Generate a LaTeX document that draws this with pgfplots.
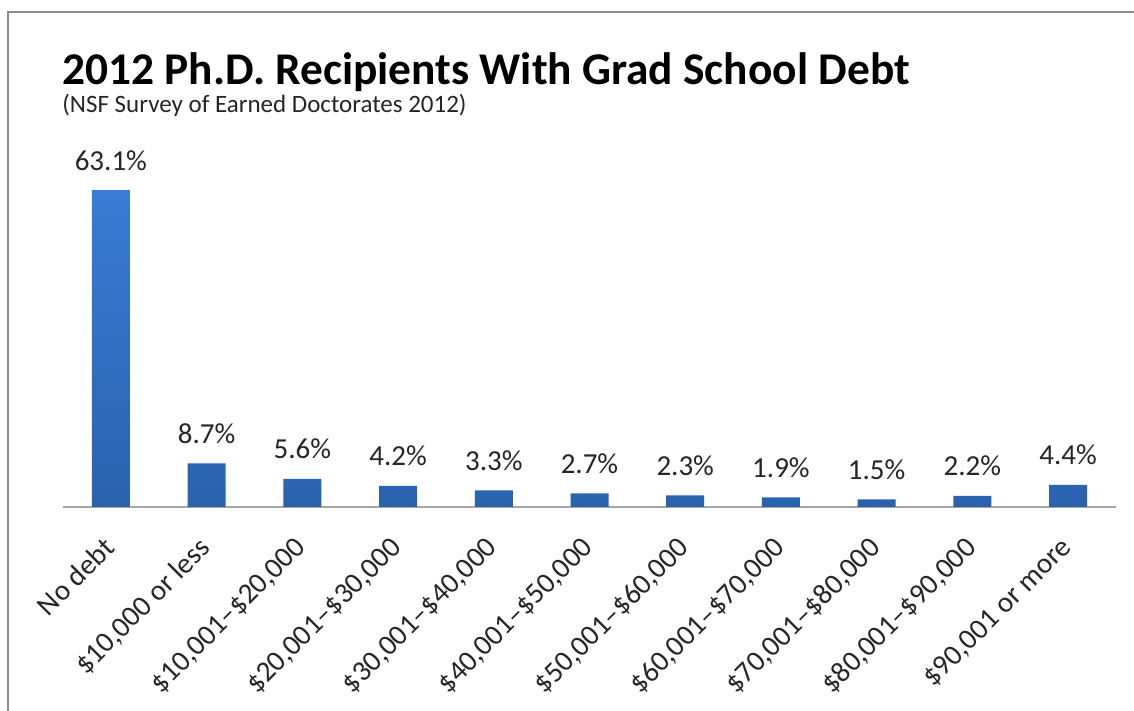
\documentclass[border=0pt]{standalone}
\usepackage{pgfplots}
\pgfplotsset{compat=1.18}
\usepackage{fontspec}
\setmainfont{Carlito}
\definecolor{bartop}{HTML}{3A7BD5}
\definecolor{barbot}{HTML}{2A62AE}
\definecolor{framegray}{HTML}{8C8C8C}
\definecolor{axgray}{HTML}{A6A6A6}
\definecolor{txt}{HTML}{262626}
\begin{document}
\begin{tikzpicture}
\useasboundingbox (0,0) rectangle (567pt,355.5pt);
\fill[white] (0,0) rectangle (567pt,355.5pt);
\draw[framegray, line width=1pt] (4pt,0) -- (4pt,349.5pt) -- (567pt,349.5pt);
\node[anchor=base west, inner sep=0pt, font=\bfseries\fontsize{22.7}{26}\selectfont, text=black] at (31pt,313pt) {2012 Ph.D. Recipients With Grad School Debt};
\node[anchor=base west, inner sep=0pt, font=\fontsize{12.5}{14}\selectfont, text=txt] at (31pt,299pt) {(NSF Survey of Earned Doctorates 2012)};
\begin{axis}[
  at={(31.5pt,102pt)}, anchor=south west,
  scale only axis, width=526.5pt, height=175.7pt,
  xmin=-0.5, xmax=10.5, ymin=0, ymax=70,
  axis x line=bottom, axis y line=none,
  x axis line style={-, axgray, line width=0.9pt},
  ytick=\empty,
  xtick={0,...,10},
  major tick length=0pt,
  xticklabels={No debt,{\$10,000 or less},{\$10,001–\$20,000},{\$20,001–\$30,000},{\$30,001–\$40,000},{\$40,001–\$50,000},{\$50,001–\$60,000},{\$60,001–\$70,000},{\$70,001–\$80,000},{\$80,001–\$90,000},{\$90,001 or more}},
  xticklabel style={xshift=-4.5pt, yshift=-14pt, rotate=45, anchor=north east, inner sep=0pt, font=\fontsize{14.5}{16}\selectfont, text=txt},
  ybar, bar width=19pt,
  /pgf/number format/assume math mode=true,
  nodes near coords={\pgfmathprintnumber[fixed,precision=1,fixed zerofill]{\pgfplotspointmeta}\%},
  every node near coord/.append style={anchor=base, yshift=10pt, font=\fontsize{14.5}{16}\selectfont, text=txt},
  clip=false,
]
\addplot[draw=none, top color=bartop, bottom color=barbot] coordinates {
(0,63.1) (1,8.7) (2,5.6) (3,4.2) (4,3.3) (5,2.7) (6,2.3) (7,1.9) (8,1.5) (9,2.2) (10,4.4)};
\end{axis}
\end{tikzpicture}
\end{document}
